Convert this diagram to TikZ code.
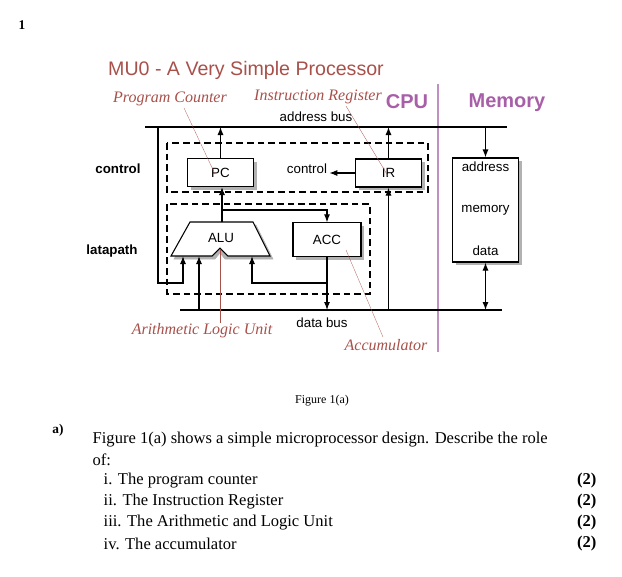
\documentclass[tikz,border=0pt]{standalone}
\usepackage{fontspec}
\setmainfont{Liberation Serif}
\setsansfont{Liberation Sans}
\usetikzlibrary{arrows, arrows.meta, positioning, shadows}
\definecolor{notecol}{HTML}{A8504A}
\definecolor{cpucol}{HTML}{A85FA8}
\tikzstyle{block} = [rectangle, draw, thick, fill=white, inner sep=0pt, font=\sffamily\fontsize{10}{12}\selectfont, drop shadow={shadow xshift=2.5pt, shadow yshift=-2.5pt, fill=gray!60, opacity=1}]
\tikzstyle{arrow} = [draw, -{Latex[length=6pt, width=4.5pt]}, thick]
\tikzstyle{bus} = [draw, thick]
\tikzstyle{dashbox} = [draw, thick, dash pattern=on 5pt off 3pt]
\tikzstyle{note} = [font=\itshape\fontsize{12}{14}\selectfont, text=notecol]
\tikzstyle{pointer} = [draw, notecol, very thin]
\tikzstyle{lbl} = [font=\sffamily\fontsize{10}{12}\selectfont]
\tikzstyle{side} = [font=\sffamily\bfseries\fontsize{10}{12}\selectfont]
\tikzstyle{qtext} = [anchor=west, font=\fontsize{12.4}{14}\selectfont]
\begin{document}
\begin{tikzpicture}[x=0.75pt, y=-0.75pt]
            \useasboundingbox (0,0) rectangle (622,576);
            % Heading
            \node[font=\bfseries] (qnum) at (22,25) {1};
            \node[font=\sffamily\fontsize{14.7}{17}\selectfont, text=notecol] (title) at (246,70) {MU0 - A Very Simple Processor};
            \node[font=\sffamily\bfseries\fontsize{15}{17}\selectfont, text=cpucol] (cpu) at (407,102) {CPU};
            \node[font=\sffamily\bfseries\fontsize{15}{17}\selectfont, text=cpucol] (mem) at (507,103) {Memory};
            \draw[cpucol!70, line width=2.2pt] (438,84) -- (438,352);

            % Buses
            \coordinate (ab0) at (145,127);
            \coordinate (ab1) at (507,127);
            \coordinate (db0) at (180,310);
            \coordinate (db1) at (502,310);
            \draw[bus] (ab0) -- (ab1);
            \draw[bus] (db0) -- (db1);
            \node[lbl] (abus) at (316,117) {address bus};
            \node[lbl] (dbus) at (322,323) {data bus};

            % Dashed areas
            \draw[dashbox] (167,143) rectangle (428,192);
            \draw[dashbox] (167,204) rectangle (370,294);
            \node[side] (ctrllbl) at (118,169) {control};
            \node[side] (dplbl) at (112,251) {latapath};

            % Blocks
            \node[block, minimum width=50pt, minimum height=21pt] (pc) at (220.5,172.5) {PC};
            \node[block, minimum width=49pt, minimum height=21pt] (ir) at (388.5,173) {IR};
            \node[block, minimum width=51pt, minimum height=25pt] (acc) at (327,239.5) {ACC};
            \node[block, minimum width=49pt, minimum height=78pt, label={[lbl, anchor=north]north:address}, label={[lbl, anchor=south, yshift=2pt]south:data}] (memory) at (485.5,210) {memory};
            \filldraw[fill=gray!60, draw=gray!60] (193,225) -- (256,225) -- (273,259) -- (225,259) -- (220,253) -- (215,259) -- (174,259) -- cycle;
            \filldraw[thick, fill=white] (190,222) -- (253,222) -- (270,256) -- (228,256) -- (220,248) -- (212,256) -- (171,256) -- cycle;
            \node[lbl] (alu) at (221,238) {ALU};
            \coordinate (aluin1) at (183,256);
            \coordinate (aluin2) at (199,256);
            \coordinate (aluin3) at (252,256);
            \coordinate (aluout) at (222,222);

            % Edges
            \draw[arrow] (ir.west) -- ++(-26,0) node[lbl, above left=-4pt and -2pt] (ctrl) {control};
            \draw[arrow] (pc.north) -- (pc.north |- ab0);
            \draw[arrow] (ir.north) -- (ir.north |- ab0);
            \draw[arrow] (ir.south |- db0) -- (ir.south);
            \draw[arrow] (aluout) -- (aluout |- pc.south);
            \draw[arrow] (aluout |- 0,210) -| (acc.north);
            \draw[arrow] (acc.south) -- (acc.south |- db0);
            \draw[arrow] (acc.south |- 0,283) -| (aluin3);
            \draw[arrow] (158,127) |- (183,283) -- (aluin1);
            \draw[arrow] (aluin2 |- db0) -- (aluin2);
            \draw[arrow] (memory.north |- ab0) -- (memory.north);
            \draw[arrow, {Latex[length=6pt, width=4.5pt]}-{Latex[length=6pt, width=4.5pt]}] (memory.south) -- (memory.south |- db1);

            % Annotations
            \node[note] (pcnote) at (170,99) {Program Counter};
            \node[note] (irnote) at (318,97) {Instruction Register};
            \node[note] (alunote) at (202,331) {Arithmetic Logic Unit};
            \node[note] (accnote) at (386,345) {Accumulator};
            \draw[pointer] (184,108) -- (215,174);
            \draw[pointer] (346,106) -- (388,176);
            \draw[pointer] (220,323) -- (220,250);
            \draw[pointer] (383,337) -- (346,250);

            % Question text
            \node[font=\small] (fig) at (322,401) {Figure 1(a)};
            \node[font=\bfseries] (parta) at (58,430) {a)};
            \node[qtext] (q1) at (88,440) {Figure 1(a) shows a simple microprocessor design. Describe the role};
            \node[qtext] (q2) at (88,460) {of:};
            \foreach \y/\t in {481/i. The program counter, 502/ii. The Instruction Register, 523/iii. The Arithmetic and Logic Unit, 544/iv. The accumulator} {
                \node[qtext] at (99,\y) {\t};
                \node[qtext, anchor=east, font=\bfseries\fontsize{12.4}{14}\selectfont] at (601,\y) {(2)};
            }
        \end{tikzpicture}
\end{document}
